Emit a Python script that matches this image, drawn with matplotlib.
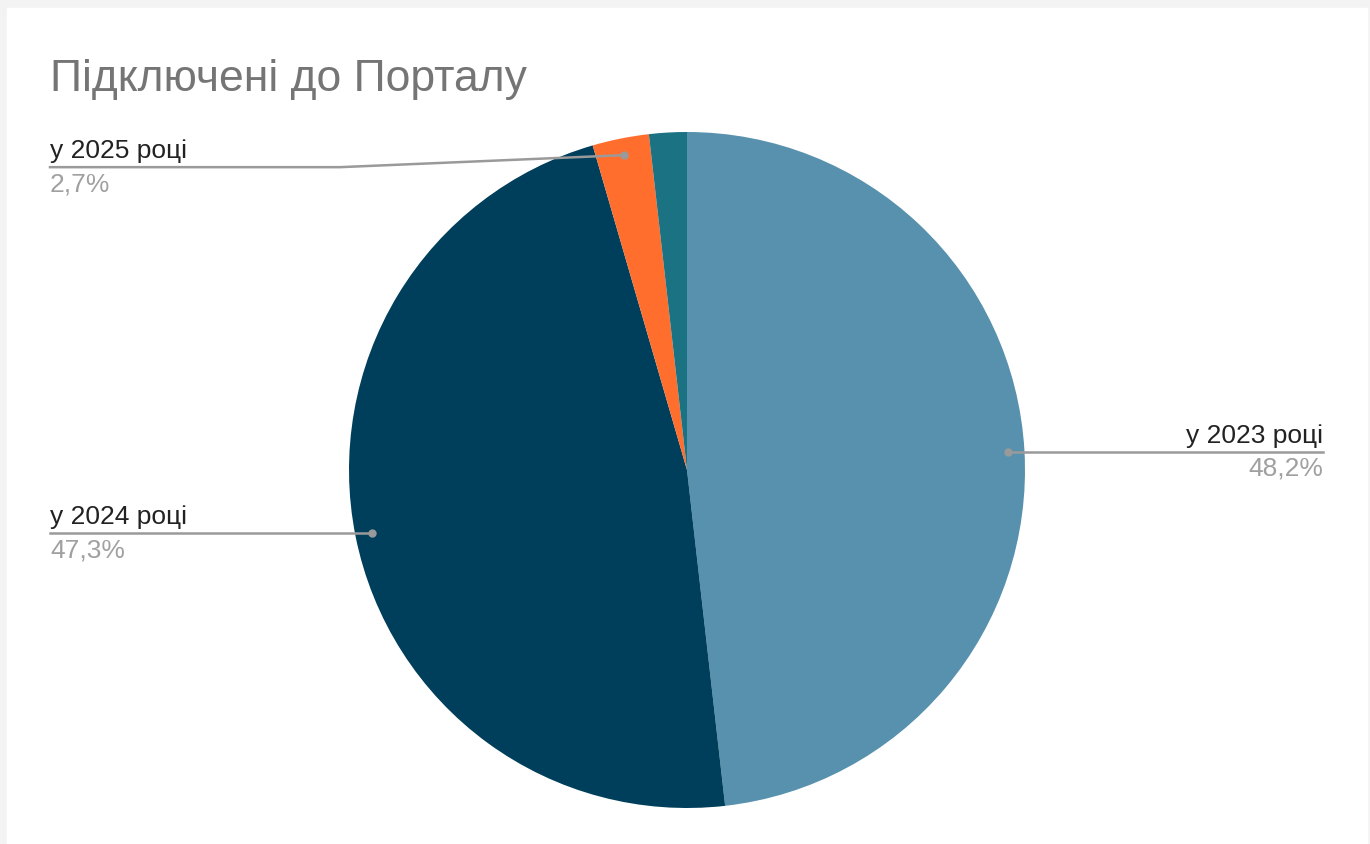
import numpy as np
import matplotlib
matplotlib.use("Agg")
import matplotlib.pyplot as plt
from matplotlib.patches import Rectangle

plt.rcParams["font.family"] = ["Liberation Sans", "DejaVu Sans"]

labels = ["у 2023 році", "у 2024 році", "у 2025 році", ""]
values = [48.2, 47.3, 2.7, 1.8]
pct_text = ["48,2%", "47,3%", "2,7%", ""]
colors = ["#5891ad", "#003f5c", "#ff6e2c", "#1b7282"]
title = "Підключені до Порталу"

W, H = 1370, 844
fig = plt.figure(figsize=(W / 100, H / 100), dpi=100)
fig.patch.set_facecolor("#f3f3f3")
ax = fig.add_axes([0, 0, 1, 1])
ax.set_xlim(0, W); ax.set_ylim(0, H)
ax.set_aspect("equal"); ax.axis("off")
ax.add_patch(Rectangle((7, 0), 1360, H - 8, color="white", zorder=0))

cx, cy, R = 687, H - 470, 338
wedges, _ = ax.pie(values, colors=colors, startangle=90, counterclock=False,
                   center=(cx, cy), radius=R, frame=True,
                   wedgeprops=dict(linewidth=0))
ax.set_xlim(0, W); ax.set_ylim(0, H); ax.axis("off")

ax.text(50, H - 80, title, fontsize=32, color="#757575", va="center", ha="left")

lc = "#9a9a9a"
# label anchor ends (layout): right side x=1323, left side x=50
for i, w in enumerate(wedges):
    if not labels[i]:
        continue
    mid = np.deg2rad((w.theta1 + w.theta2) / 2)
    px, py = cx + 0.95 * R * np.cos(mid), cy + 0.95 * R * np.sin(mid)
    ax.plot(px, py, "o", color=lc, ms=5, zorder=5)
    if np.cos(mid) > 0:
        ex, ha = 1323, "right"
        ax.plot([px, ex], [py, py], color=lc, lw=1.8, zorder=4)
        ly = py
    elif py > cy + 0.8 * R:
        ex, ha = 50, "left"
        ly = py - 12
        ax.plot([px, 340, ex], [py, ly, ly], color=lc, lw=1.8, zorder=4)
    else:
        ex, ha = 50, "left"
        ax.plot([px, ex], [py, py], color=lc, lw=1.8, zorder=4)
        ly = py
    ax.text(ex, ly + 4, labels[i], fontsize=19, color="#222222", ha=ha, va="bottom")
    ax.text(ex, ly - 5, pct_text[i], fontsize=19, color="#a0a0a0", ha=ha, va="top")

fig.savefig("out.png", dpi=100, facecolor=fig.get_facecolor())
